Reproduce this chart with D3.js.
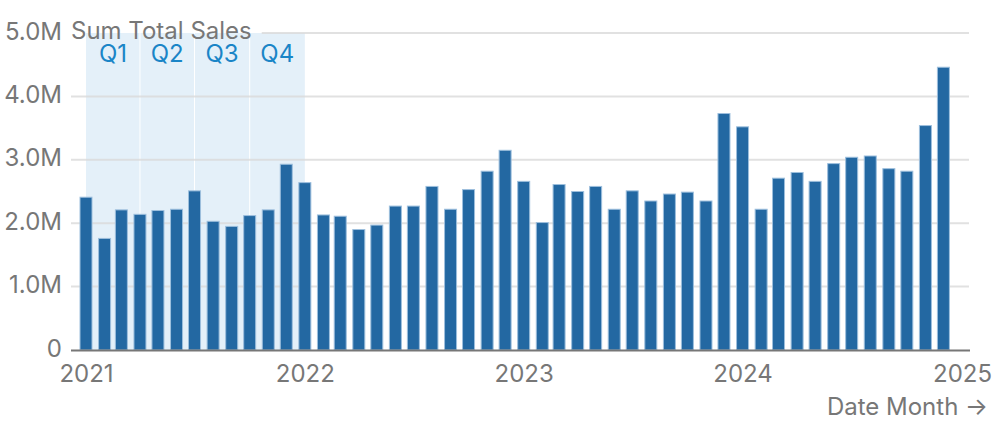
<html>
<head>
	<meta charset="utf-8">
	<title>Sum Total Sales by Month</title>
	<style>
		body { margin: 0; background: #fff; }
		svg text { font-family: Inter, "Noto Sans", sans-serif; }
	</style>
</head>
<body>
	<div id="chart"></div>
	<script src="https://cdn.jsdelivr.net/npm/d3@7"></script>
	<script>
		// month of each bar
		var months = [
			"2021-01","2021-02","2021-03","2021-04","2021-05","2021-06","2021-07","2021-08","2021-09","2021-10","2021-11","2021-12",
			"2022-01","2022-02","2022-03","2022-04","2022-05","2022-06","2022-07","2022-08","2022-09","2022-10","2022-11","2022-12",
			"2023-01","2023-02","2023-03","2023-04","2023-05","2023-06","2023-07","2023-08","2023-09","2023-10","2023-11","2023-12",
			"2024-01","2024-02","2024-03","2024-04","2024-05","2024-06","2024-07","2024-08","2024-09","2024-10","2024-11","2024-12"
		];
		// total sales, millions
		var sales = [
			2.41, 1.76, 2.21, 2.14, 2.20, 2.22, 2.51, 2.03, 1.95, 2.12, 2.21, 2.93,
			2.64, 2.13, 2.11, 1.90, 1.97, 2.27, 2.27, 2.58, 2.22, 2.53, 2.82, 3.15,
			2.66, 2.01, 2.61, 2.50, 2.58, 2.22, 2.51, 2.35, 2.46, 2.49, 2.35, 3.73,
			3.52, 2.22, 2.71, 2.80, 2.66, 2.94, 3.04, 3.06, 2.86, 2.82, 3.54, 4.46
		];
		// highlighted quarters
		var quarters = ["Q1", "Q2", "Q3", "Q4"];
		var quarterStarts = ["2021-01", "2021-04", "2021-07", "2021-10"];
		var quarterEnds = ["2021-04", "2021-07", "2021-10", "2022-01"];
		var xDomain = ["2021-01", "2025-01"];
		var yTicks = [0, 1e6, 2e6, 3e6, 4e6, 5e6];

		var width = 1000, height = 430;
		var fontSize = 24;
		var parse = d3.timeParse("%Y-%m");
		var data = months.map(function(m, i) { return { date: parse(m), value: sales[i] * 1e6 }; });

		var x = d3.scaleTime().domain(xDomain.map(parse)).range([86, 962]);
		var y = d3.scaleLinear().domain([0, 5e6]).range([350, 33]);

		var gridLeft = 71, gridRight = 970;
		var barWidth = 12;
		var grey = "#777";

		var svg = d3.select("#chart").append("svg")
			.attr("width", width).attr("height", height);

		// quarter shading
		var qg = svg.append("g");
		quarters.forEach(function(q, i) {
			var x0 = x(parse(quarterStarts[i])), x1 = x(parse(quarterEnds[i]));
			qg.append("rect")
				.attr("x", x0).attr("y", y(5e6))
				.attr("width", x1 - x0).attr("height", y(0) - y(5e6))
				.attr("fill", "#e4f0f9");
			if (i > 0) {
				qg.append("line")
					.attr("x1", x0).attr("x2", x0)
					.attr("y1", y(5e6)).attr("y2", y(0))
					.attr("stroke", "#fff").attr("stroke-width", 1);
			}
			qg.append("text")
				.attr("x", (x0 + x1) / 2).attr("y", 62)
				.attr("text-anchor", "middle")
				.attr("font-size", fontSize)
				.attr("fill", "#1a85c7")
				.text(q);
		});

		// y axis labels
		var yAxis = d3.axisLeft(y).tickValues(yTicks).tickSize(0).tickPadding(0)
			.tickFormat(function(d) { return d === 0 ? "0" : (d / 1e6).toFixed(1) + "M"; });
		var ya = svg.append("g").attr("transform", "translate(62,0)").call(yAxis);
		ya.select(".domain").remove();
		ya.selectAll("text").attr("font-size", fontSize).attr("fill", grey).attr("dy", "0.25em")
			.attr("font-family", "Inter, 'Noto Sans', sans-serif");

		var title = svg.append("text")
			.attr("x", 71).attr("y", y(5e6)).attr("dy", "0.25em")
			.attr("font-size", fontSize).attr("fill", grey)
			.text("Sum Total Sales");
		var titleEnd = 71 + title.node().getComputedTextLength() + 10;

		// gridlines
		svg.append("g").selectAll("line")
			.data(yTicks.filter(function(d) { return d > 0; }))
			.join("line")
			.attr("x1", function(d) { return d === 5e6 ? titleEnd : gridLeft; })
			.attr("x2", gridRight - 1)
			.attr("y1", function(d) { return y(d); })
			.attr("y2", function(d) { return y(d); })
			.attr("stroke", "#d9d9d9").attr("stroke-opacity", 0.8)
			.attr("stroke-width", 2);

		// bars
		svg.append("g").selectAll("rect")
			.data(data)
			.join("rect")
			.attr("x", function(d) { return x(d.date) - barWidth / 2; })
			.attr("y", function(d) { return y(d.value); })
			.attr("width", barWidth)
			.attr("height", function(d) { return y(0) - y(d.value); })
			.attr("fill", "#2368a2")
			.attr("stroke", "#9dbfdd")
			.attr("stroke-width", 1);

		// x axis
		var xAxis = d3.axisBottom(x).ticks(d3.timeYear.every(1)).tickSize(0).tickPadding(15)
			.tickFormat(d3.timeFormat("%Y"));
		var xa = svg.append("g").attr("transform", "translate(0,350)").call(xAxis);
		xa.select(".domain").remove();
		xa.selectAll("text").attr("font-size", fontSize).attr("fill", grey)
			.attr("font-family", "Inter, 'Noto Sans', sans-serif");

		svg.append("line")
			.attr("x1", gridLeft).attr("x2", gridRight)
			.attr("y1", y(0) + 0.5).attr("y2", y(0) + 0.5)
			.attr("stroke", grey).attr("stroke-width", 2);

		svg.append("text")
			.attr("x", 988).attr("y", 415)
			.attr("text-anchor", "end")
			.attr("font-size", fontSize).attr("fill", grey)
			.text("Date Month →");
	</script>
</body>
</html>
